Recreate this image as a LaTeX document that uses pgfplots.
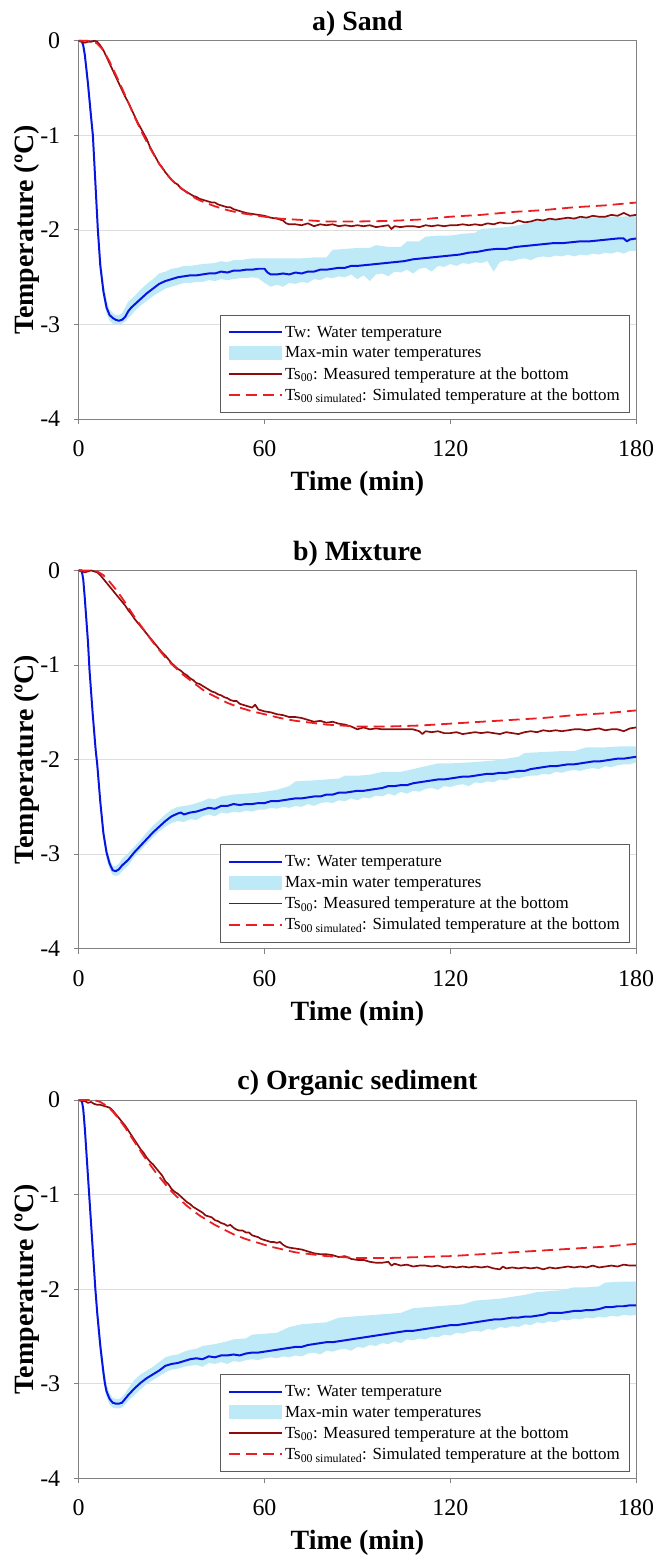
\documentclass[border=0pt]{standalone}
\usepackage{fontspec}
\setmainfont{Liberation Serif}
\usepackage{pgfplots}
\pgfplotsset{compat=1.18}
\definecolor{tw}{RGB}{10,20,225}
\definecolor{band}{RGB}{190,234,248}
\definecolor{meas}{RGB}{140,12,12}
\definecolor{sim}{RGB}{235,30,35}
\definecolor{frame}{RGB}{130,130,130}
\definecolor{gridc}{RGB}{222,222,222}
\pgfplotsset{
 panel/.style={
  scale only axis, width=560pt, height=380pt,
  xmin=0,xmax=180,ymin=-4,ymax=0, clip=false,
  xtick={0,60,120,180}, xticklabels={0,60,120,180},
  ytick={-4,-3,-2,-1,0}, yticklabels={-4,-3,-2,-1,0},
  tick align=outside, major tick length=5pt,
  xtick pos=left, ytick pos=left,
  axis line style={frame, line width=1pt},
  major tick style={frame, line width=1pt},
  ymajorgrids, grid style={gridc, line width=0.8pt},
  tick label style={font=\fontsize{24}{24}\selectfont, text=black},
  xticklabel style={yshift=-13pt},
  yticklabel style={xshift=-10pt},
  every axis x label/.style={at={(axis description cs:0.5,-0.171)}, anchor=center, font=\bfseries\fontsize{28}{30}\selectfont},
  every axis y label/.style={at={(axis description cs:-0.0925,0.5)}, anchor=center, rotate=90, font=\bfseries\fontsize{28}{30}\selectfont},
  every axis title/.style={at={(axis description cs:0.5,1)}, anchor=center, yshift=17pt, font=\bfseries\fontsize{28}{30}\selectfont},
  xlabel={Time (min)}, ylabel={Temperature (ºC)},
  legend cell align=left,
  legend style={at={(rel axis cs:0.9893,0.0158)}, anchor=south east, draw=frame!70!black, line width=1pt, fill=white,
    font=\fontsize{17}{20}\selectfont, inner xsep=8pt, inner ysep=9pt, row sep=4pt},
 },
 twl/.style={tw, line width=2pt, line join=round},
 measl/.style={meas, line width=1.7pt, line join=round},
 siml/.style={sim, line width=1.8pt, dash pattern=on 11pt off 6pt},
 twleg/.style={legend image code/.code={\draw[draw=tw, line width=2pt] (0pt,0pt) -- (53pt,0pt);}},
 bandleg/.style={legend image code/.code={\fill[fill=band, draw=none] (0pt,-7pt) rectangle (53pt,7pt);}},
 measleg/.style={legend image code/.code={\draw[draw=meas, line width=1.7pt] (0pt,0pt) -- (53pt,0pt);}},
 simleg/.style={legend image code/.code={\draw[draw=sim, line width=1.8pt, dash pattern=on 11pt off 6pt] (0pt,0pt) -- (53pt,0pt);}},
}
\newcommand\mylegend{%
  \addlegendimage{twleg}\addlegendentry{Tw: Water temperature}
  \addlegendimage{bandleg}\addlegendentry{Max-min water temperatures}
  \addlegendimage{measleg}\addlegendentry{Ts\textsubscript{00}: Measured temperature at the bottom}
  \addlegendimage{simleg}\addlegendentry{Ts\textsubscript{00 simulated}: Simulated temperature at the bottom}
}
\begin{document}
\begin{tikzpicture}
\path (0pt,0pt) rectangle (660pt,-1559pt);
% ================= a) Sand
\begin{axis}[panel, at={(79pt,-421pt)}, anchor=south west, title={a) Sand}]
\addplot[fill=band, draw=none, forget plot] coordinates {(0,0) (1,0) (2,-0.08) (3,-0.36) (4,-0.7) (5,-1.1) (6,-1.75) (7,-2.25) (8,-2.55) (9,-2.74) (10,-2.84) (11,-2.88) (12,-2.9) (13,-2.9) (14,-2.88) (15,-2.82) (16,-2.76) (18,-2.70) (20,-2.63) (22,-2.57) (24,-2.52) (26,-2.46) (28,-2.44) (30,-2.41) (32,-2.40) (34,-2.38) (36,-2.38) (40,-2.36) (44,-2.35) (46,-2.33) (48,-2.34) (50,-2.32) (52,-2.32) (54,-2.31) (56,-2.30) (58,-2.30) (60,-2.30) (64,-2.30) (68,-2.30) (72,-2.30) (76,-2.29) (80,-2.29) (82,-2.21) (86,-2.20) (90,-2.19) (94,-2.19) (96,-2.16) (100,-2.18) (104,-2.18) (106,-2.12) (110,-2.12) (112,-2.07) (116,-2.06) (120,-2.06) (124,-2.04) (128,-2.03) (130,-1.99) (134,-1.98) (138,-1.97) (142,-1.95) (146,-1.92) (148,-1.89) (152,-1.89) (156,-1.88) (160,-1.87) (166,-1.87) (170,-1.86) (175,-1.86) (180,-1.85)
(180,-2.22) (178,-2.22) (176,-2.25) (174,-2.23) (172,-2.25) (170,-2.24) (168,-2.26) (166,-2.25) (164,-2.27) (162,-2.26) (160,-2.28) (158,-2.26) (156,-2.28) (154,-2.27) (152,-2.29) (150,-2.28) (148,-2.29) (146,-2.32) (144,-2.30) (142,-2.31) (140,-2.33) (138,-2.32) (136,-2.34) (134,-2.44) (132,-2.33) (130,-2.35) (128,-2.34) (126,-2.36) (124,-2.35) (122,-2.38) (120,-2.36) (118,-2.39) (116,-2.38) (114,-2.44) (112,-2.40) (110,-2.41) (108,-2.46) (106,-2.42) (104,-2.45) (102,-2.44) (100,-2.49) (98,-2.46) (96,-2.47) (94,-2.54) (92,-2.48) (90,-2.52) (88,-2.47) (86,-2.50) (84,-2.49) (82,-2.51) (80,-2.50) (78,-2.53) (76,-2.52) (74,-2.56) (72,-2.55) (70,-2.57) (68,-2.56) (66,-2.60) (64,-2.58) (62,-2.60) (60,-2.56) (58,-2.51) (56,-2.50) (54,-2.51) (52,-2.51) (50,-2.52) (48,-2.53) (46,-2.52) (44,-2.54) (42,-2.53) (40,-2.55) (38,-2.55) (36,-2.56) (34,-2.56) (32,-2.58) (30,-2.60) (28,-2.62) (26,-2.66) (24,-2.70) (22,-2.75) (20,-2.8) (18,-2.86) (17,-2.9) (16,-2.93) (15,-2.97) (14,-2.99) (13,-3.0) (12,-3.0) (11,-2.99) (10,-2.96) (9,-2.88) (8,-2.72) (7,-2.42) (6,-1.95) (5,-1.35) (4,-0.9) (3,-0.55) (2,-0.2) (1,-0.03) (0,-0.02)};
\addplot[twl, forget plot] coordinates {(0,0) (1,0) (1.5,-0.05) (2,-0.15) (3,-0.45) (4,-0.8) (4.6,-1.0) (5.4,-1.5) (6.2,-2.0) (7,-2.38) (8,-2.65) (9,-2.82) (10,-2.9) (11,-2.93) (12,-2.95) (13,-2.96) (14,-2.95) (15,-2.92) (16,-2.86) (17,-2.82) (18,-2.79) (20,-2.73) (22,-2.67) (24,-2.62) (26,-2.57) (28,-2.54) (30,-2.52) (32,-2.50) (34,-2.49) (36,-2.48) (38,-2.48) (40,-2.47) (42,-2.46) (44,-2.46) (46,-2.44) (48,-2.45) (50,-2.43) (52,-2.43) (54,-2.42) (56,-2.42) (58,-2.41) (60,-2.41) (61,-2.45) (62,-2.47) (64,-2.47) (66,-2.46) (68,-2.47) (70,-2.45) (72,-2.46) (74,-2.44) (76,-2.44) (78,-2.42) (80,-2.42) (82,-2.41) (84,-2.40) (86,-2.40) (88,-2.38) (90,-2.38) (93,-2.37) (96,-2.36) (99,-2.35) (102,-2.34) (105,-2.33) (108,-2.31) (111,-2.30) (114,-2.29) (117,-2.28) (120,-2.27) (123,-2.26) (126,-2.24) (129,-2.23) (132,-2.21) (135,-2.20) (138,-2.20) (141,-2.18) (144,-2.17) (147,-2.16) (150,-2.15) (153,-2.14) (156,-2.14) (159,-2.13) (162,-2.12) (165,-2.12) (168,-2.11) (171,-2.10) (174,-2.09) (176,-2.09) (177,-2.12) (178,-2.10) (180,-2.09)};
\addplot[measl, forget plot] coordinates {(0,0) (1,-0.01) (2,-0.02) (3,-0.01) (4,-0.01) (5,0) (6,-0.01) (7,-0.05) (8,-0.1) (9,-0.17) (10,-0.24) (11,-0.31) (12,-0.38) (13,-0.45) (14,-0.52) (15,-0.59) (16,-0.65) (17,-0.72) (18,-0.79) (19,-0.86) (20,-0.92) (21,-0.98) (22,-1.04) (23,-1.12) (24,-1.18) (25,-1.24) (26,-1.3) (27,-1.34) (28,-1.39) (29,-1.43) (30,-1.47) (31,-1.5) (32,-1.52) (33,-1.56) (34,-1.58) (35,-1.6) (36,-1.62) (37,-1.64) (38,-1.65) (39,-1.67) (40,-1.68) (41,-1.69) (42,-1.70) (43,-1.71) (44,-1.71) (45,-1.73) (46,-1.74) (47,-1.75) (48,-1.76) (49,-1.76) (50,-1.78) (51,-1.79) (52,-1.8) (53,-1.81) (54,-1.82) (56,-1.83) (58,-1.84) (60,-1.85) (62,-1.87) (64,-1.88) (66,-1.9) (67,-1.93) (68,-1.94) (70,-1.94) (72,-1.95) (74,-1.93) (76,-1.96) (78,-1.94) (80,-1.95) (82,-1.94) (84,-1.96) (86,-1.95) (88,-1.96) (90,-1.95) (92,-1.96) (94,-1.95) (96,-1.97) (98,-1.96) (100,-1.95) (101,-1.99) (102,-1.96) (104,-1.97) (106,-1.96) (108,-1.96) (110,-1.97) (112,-1.95) (114,-1.96) (116,-1.95) (118,-1.96) (120,-1.95) (122,-1.95) (124,-1.94) (126,-1.95) (128,-1.94) (130,-1.95) (132,-1.93) (134,-1.94) (136,-1.92) (138,-1.93) (140,-1.93) (142,-1.9) (144,-1.92) (146,-1.91) (148,-1.89) (150,-1.90) (152,-1.88) (154,-1.89) (156,-1.88) (158,-1.87) (160,-1.88) (162,-1.86) (164,-1.87) (166,-1.85) (168,-1.86) (170,-1.86) (172,-1.84) (174,-1.85) (176,-1.82) (178,-1.85) (180,-1.84)};
\addplot[siml, forget plot] coordinates {(0,0) (3,0) (5,-0.01) (6,-0.03) (8,-0.1) (10,-0.22) (12,-0.36) (14,-0.5) (16,-0.65) (18,-0.8) (20,-0.94) (22,-1.07) (24,-1.19) (26,-1.3) (28,-1.39) (30,-1.47) (32,-1.53) (34,-1.58) (36,-1.63) (38,-1.67) (40,-1.7) (44,-1.75) (48,-1.79) (52,-1.82) (56,-1.84) (60,-1.86) (65,-1.88) (70,-1.89) (75,-1.90) (80,-1.91) (90,-1.91) (100,-1.905) (110,-1.89) (120,-1.86) (130,-1.84) (140,-1.81) (150,-1.79) (160,-1.76) (170,-1.74) (180,-1.71)};
\mylegend
\end{axis}
% ================= b) Mixture
\begin{axis}[panel, at={(79pt,-953pt)}, anchor=south west, title={b) Mixture}]
\addplot[fill=band, draw=none, forget plot] coordinates {(0,0) (1,0) (1.5,-0.05) (2,-0.22) (3,-0.65) (4,-1.2) (5,-1.65) (6,-1.98) (7,-2.38) (8,-2.7) (9,-2.92) (10,-3.05) (11,-3.12) (12,-3.13) (13,-3.1) (14,-3.05) (16,-2.99) (18,-2.92) (20,-2.85) (22,-2.77) (24,-2.70) (26,-2.64) (28,-2.58) (30,-2.53) (32,-2.50) (34,-2.49) (36,-2.48) (38,-2.46) (40,-2.44) (42,-2.41) (44,-2.42) (46,-2.39) (48,-2.38) (50,-2.37) (54,-2.36) (58,-2.35) (60,-2.34) (64,-2.32) (68,-2.28) (70,-2.23) (76,-2.22) (80,-2.21) (84,-2.20) (86,-2.17) (90,-2.17) (94,-2.16) (98,-2.13) (104,-2.13) (108,-2.10) (112,-2.07) (116,-2.04) (120,-2.04) (126,-2.03) (130,-2.02) (134,-2.01) (138,-1.99) (142,-1.97) (144,-1.93) (150,-1.92) (156,-1.91) (160,-1.91) (164,-1.87) (170,-1.87) (175,-1.86) (180,-1.86)
(180,-2.03) (178,-2.05) (176,-2.05) (174,-2.06) (172,-2.08) (170,-2.07) (168,-2.10) (166,-2.09) (164,-2.10) (162,-2.12) (160,-2.11) (158,-2.12) (156,-2.14) (154,-2.13) (152,-2.16) (150,-2.15) (148,-2.17) (146,-2.17) (144,-2.18) (142,-2.20) (140,-2.19) (138,-2.22) (136,-2.21) (134,-2.24) (132,-2.23) (130,-2.25) (128,-2.24) (126,-2.28) (124,-2.26) (122,-2.27) (120,-2.29) (118,-2.28) (116,-2.32) (114,-2.30) (112,-2.31) (110,-2.34) (108,-2.33) (106,-2.36) (104,-2.34) (102,-2.38) (100,-2.36) (98,-2.39) (96,-2.38) (94,-2.41) (92,-2.40) (90,-2.43) (88,-2.41) (86,-2.44) (84,-2.43) (82,-2.46) (80,-2.45) (78,-2.46) (76,-2.49) (74,-2.47) (72,-2.50) (70,-2.49) (68,-2.51) (66,-2.50) (64,-2.52) (62,-2.51) (60,-2.53) (58,-2.53) (56,-2.55) (54,-2.54) (52,-2.56) (50,-2.55) (48,-2.57) (46,-2.56) (44,-2.60) (42,-2.58) (40,-2.60) (38,-2.64) (36,-2.63) (34,-2.66) (32,-2.65) (30,-2.67) (28,-2.71) (26,-2.76) (24,-2.82) (22,-2.89) (20,-2.96) (18,-3.03) (16,-3.12) (14,-3.18) (13,-3.22) (12,-3.23) (11,-3.22) (10,-3.16) (9,-3.05) (8,-2.85) (7,-2.52) (6,-2.12) (5,-1.8) (4,-1.35) (3,-0.85) (2,-0.4) (1.5,-0.15) (1,-0.03) (0,-0.02)};
\addplot[twl, forget plot] coordinates {(0,0) (1,0) (1.5,-0.1) (2,-0.3) (3,-0.75) (3.5,-1.05) (4.5,-1.5) (5.5,-1.9) (6,-2.05) (7,-2.45) (8,-2.78) (9,-2.98) (10,-3.1) (11,-3.17) (12,-3.18) (13,-3.16) (14,-3.12) (15,-3.09) (16,-3.06) (18,-2.98) (20,-2.91) (22,-2.84) (24,-2.77) (26,-2.71) (28,-2.65) (30,-2.6) (32,-2.57) (33,-2.56) (34,-2.58) (36,-2.56) (38,-2.55) (40,-2.53) (42,-2.51) (44,-2.52) (46,-2.49) (48,-2.49) (50,-2.47) (52,-2.48) (54,-2.47) (56,-2.47) (58,-2.46) (60,-2.46) (62,-2.44) (64,-2.44) (66,-2.43) (68,-2.42) (70,-2.41) (72,-2.41) (74,-2.40) (76,-2.39) (78,-2.39) (80,-2.37) (82,-2.37) (84,-2.35) (86,-2.35) (88,-2.34) (90,-2.33) (92,-2.33) (94,-2.32) (96,-2.31) (98,-2.30) (100,-2.28) (102,-2.28) (104,-2.27) (106,-2.27) (108,-2.25) (110,-2.24) (112,-2.23) (114,-2.22) (116,-2.21) (118,-2.21) (120,-2.20) (122,-2.19) (124,-2.18) (126,-2.18) (128,-2.17) (130,-2.16) (132,-2.15) (134,-2.15) (136,-2.14) (138,-2.14) (140,-2.13) (142,-2.12) (144,-2.12) (146,-2.10) (148,-2.09) (150,-2.08) (152,-2.07) (154,-2.07) (156,-2.06) (158,-2.05) (160,-2.05) (162,-2.04) (164,-2.03) (166,-2.02) (168,-2.02) (170,-2.01) (172,-2.00) (174,-1.99) (176,-1.99) (178,-1.98) (180,-1.97)};
\addplot[measl, forget plot] coordinates {(0,0) (1,-0.01) (2,-0.02) (3,-0.01) (4,0) (5,-0.01) (6,-0.02) (7,-0.05) (8,-0.09) (9,-0.13) (10,-0.17) (11,-0.21) (12,-0.25) (13,-0.29) (14,-0.33) (15,-0.37) (16,-0.42) (17,-0.46) (18,-0.51) (19,-0.55) (20,-0.59) (21,-0.63) (22,-0.67) (23,-0.71) (24,-0.75) (25,-0.79) (26,-0.83) (27,-0.87) (28,-0.9) (29,-0.94) (30,-0.98) (31,-1.01) (32,-1.04) (33,-1.06) (34,-1.09) (35,-1.11) (36,-1.14) (37,-1.16) (38,-1.19) (39,-1.20) (40,-1.22) (41,-1.24) (42,-1.26) (43,-1.28) (44,-1.29) (45,-1.31) (46,-1.32) (47,-1.34) (48,-1.35) (49,-1.37) (50,-1.38) (51,-1.38) (52,-1.41) (53,-1.42) (54,-1.43) (55,-1.44) (56,-1.45) (57,-1.42) (58,-1.47) (59,-1.48) (60,-1.49) (62,-1.50) (64,-1.52) (66,-1.53) (68,-1.55) (70,-1.55) (72,-1.56) (74,-1.58) (76,-1.60) (78,-1.59) (80,-1.61) (82,-1.60) (84,-1.62) (86,-1.63) (88,-1.65) (90,-1.68) (92,-1.66) (94,-1.68) (96,-1.67) (98,-1.68) (100,-1.68) (102,-1.68) (104,-1.68) (106,-1.68) (108,-1.68) (110,-1.70) (111,-1.73) (112,-1.70) (114,-1.71) (116,-1.70) (118,-1.72) (120,-1.72) (122,-1.71) (124,-1.73) (126,-1.72) (128,-1.71) (130,-1.72) (132,-1.71) (134,-1.72) (136,-1.73) (138,-1.71) (140,-1.72) (142,-1.73) (144,-1.71) (146,-1.70) (148,-1.71) (150,-1.69) (152,-1.70) (154,-1.69) (156,-1.70) (158,-1.69) (160,-1.68) (162,-1.68) (164,-1.69) (166,-1.68) (168,-1.67) (170,-1.69) (172,-1.68) (174,-1.68) (176,-1.70) (178,-1.67) (180,-1.66)};
\addplot[siml, forget plot] coordinates {(0,0) (4,0) (6,-0.01) (8,-0.05) (10,-0.12) (12,-0.2) (14,-0.29) (16,-0.39) (18,-0.49) (20,-0.58) (22,-0.67) (24,-0.76) (26,-0.84) (28,-0.92) (30,-0.99) (32,-1.05) (34,-1.11) (36,-1.16) (38,-1.21) (40,-1.26) (42,-1.30) (45,-1.35) (48,-1.40) (52,-1.45) (56,-1.49) (60,-1.52) (65,-1.56) (70,-1.59) (75,-1.61) (80,-1.63) (85,-1.64) (90,-1.65) (100,-1.65) (110,-1.64) (120,-1.62) (130,-1.60) (140,-1.58) (150,-1.56) (160,-1.53) (170,-1.51) (180,-1.48)};
\mylegend
\end{axis}
% ================= c) Organic sediment
\begin{axis}[panel, at={(79pt,-1485pt)}, anchor=south west, title={c) Organic sediment}]
\addplot[fill=band, draw=none, forget plot] coordinates {(0,0) (1,0) (2,-0.2) (3,-0.7) (4,-1.2) (5,-1.7) (6,-2.15) (7,-2.5) (8,-2.8) (9,-3.0) (10,-3.1) (11,-3.15) (12,-3.16) (13,-3.16) (14,-3.14) (15,-3.1) (16,-3.05) (18,-2.96) (20,-2.9) (22,-2.86) (24,-2.82) (26,-2.77) (28,-2.72) (30,-2.70) (32,-2.69) (34,-2.66) (36,-2.64) (38,-2.63) (40,-2.60) (44,-2.58) (48,-2.55) (50,-2.53) (54,-2.52) (56,-2.48) (60,-2.47) (64,-2.46) (68,-2.40) (72,-2.37) (76,-2.36) (80,-2.35) (84,-2.30) (88,-2.29) (92,-2.28) (96,-2.27) (100,-2.26) (104,-2.25) (108,-2.20) (112,-2.19) (116,-2.18) (120,-2.17) (124,-2.16) (128,-2.12) (132,-2.11) (136,-2.10) (140,-2.08) (144,-2.06) (148,-2.03) (152,-2.02) (156,-2.01) (160,-1.98) (164,-1.98) (168,-1.97) (170,-1.93) (175,-1.92) (180,-1.92)
(180,-2.27) (178,-2.28) (176,-2.27) (174,-2.29) (172,-2.28) (170,-2.30) (168,-2.29) (166,-2.31) (164,-2.30) (162,-2.32) (160,-2.31) (158,-2.33) (156,-2.32) (154,-2.35) (152,-2.34) (150,-2.36) (148,-2.35) (146,-2.38) (144,-2.37) (142,-2.40) (140,-2.39) (138,-2.41) (136,-2.40) (134,-2.43) (132,-2.42) (130,-2.45) (128,-2.44) (126,-2.45) (124,-2.47) (122,-2.46) (120,-2.49) (118,-2.48) (116,-2.51) (114,-2.50) (112,-2.53) (110,-2.52) (108,-2.54) (106,-2.53) (104,-2.57) (102,-2.55) (100,-2.58) (98,-2.57) (96,-2.60) (94,-2.59) (92,-2.62) (90,-2.61) (88,-2.65) (86,-2.63) (84,-2.64) (82,-2.66) (80,-2.65) (78,-2.69) (76,-2.67) (74,-2.68) (72,-2.71) (70,-2.70) (68,-2.72) (66,-2.71) (64,-2.73) (62,-2.72) (60,-2.73) (58,-2.75) (56,-2.74) (54,-2.75) (52,-2.77) (50,-2.76) (48,-2.79) (46,-2.77) (44,-2.79) (42,-2.78) (40,-2.82) (38,-2.80) (36,-2.81) (34,-2.82) (32,-2.84) (30,-2.85) (28,-2.88) (26,-2.92) (24,-2.96) (22,-3.0) (20,-3.06) (18,-3.12) (16,-3.18) (15,-3.22) (14,-3.25) (13,-3.26) (12,-3.26) (11,-3.25) (10,-3.22) (9,-3.14) (8,-2.98) (7,-2.72) (6,-2.38) (5,-1.9) (4,-1.4) (3,-0.92) (2,-0.42) (1,-0.03) (0,-0.02)};
\addplot[twl, forget plot] coordinates {(0,0) (1,0) (1.5,-0.1) (2,-0.3) (3,-0.8) (3.5,-1.05) (4.5,-1.55) (5.4,-2.0) (6,-2.25) (7,-2.6) (8,-2.88) (8.5,-3.0) (9,-3.08) (10,-3.16) (11,-3.2) (12,-3.21) (13,-3.21) (14,-3.2) (15,-3.16) (16,-3.12) (18,-3.05) (20,-2.99) (22,-2.94) (24,-2.9) (26,-2.86) (28,-2.81) (30,-2.79) (32,-2.78) (34,-2.76) (36,-2.74) (38,-2.73) (40,-2.74) (42,-2.71) (44,-2.72) (46,-2.70) (48,-2.70) (50,-2.69) (52,-2.70) (54,-2.68) (56,-2.67) (58,-2.67) (60,-2.66) (62,-2.65) (64,-2.64) (66,-2.63) (68,-2.62) (70,-2.61) (72,-2.61) (74,-2.59) (76,-2.58) (78,-2.57) (80,-2.56) (82,-2.56) (84,-2.55) (86,-2.54) (88,-2.53) (90,-2.52) (92,-2.51) (94,-2.50) (96,-2.49) (98,-2.48) (100,-2.47) (102,-2.46) (104,-2.45) (106,-2.44) (108,-2.44) (110,-2.43) (112,-2.42) (114,-2.41) (116,-2.40) (118,-2.39) (120,-2.38) (122,-2.38) (124,-2.37) (126,-2.36) (128,-2.35) (130,-2.34) (132,-2.33) (134,-2.32) (136,-2.32) (138,-2.31) (140,-2.30) (142,-2.30) (144,-2.29) (146,-2.29) (148,-2.28) (150,-2.27) (152,-2.25) (154,-2.25) (156,-2.25) (158,-2.24) (160,-2.23) (162,-2.23) (164,-2.22) (166,-2.22) (168,-2.21) (170,-2.19) (172,-2.19) (174,-2.18) (176,-2.18) (178,-2.17) (180,-2.17)};
\addplot[measl, forget plot] coordinates {(0,0) (1,-0.01) (2,-0.01) (3,-0.03) (4,-0.02) (5,-0.04) (6,-0.05) (7,-0.05) (8,-0.06) (9,-0.07) (10,-0.08) (11,-0.11) (12,-0.15) (13,-0.19) (14,-0.23) (15,-0.27) (16,-0.32) (17,-0.37) (18,-0.42) (19,-0.47) (20,-0.52) (21,-0.56) (22,-0.61) (23,-0.65) (24,-0.68) (25,-0.72) (26,-0.76) (27,-0.80) (28,-0.86) (29,-0.89) (30,-0.94) (31,-0.97) (32,-0.99) (33,-1.02) (34,-1.05) (35,-1.08) (36,-1.10) (37,-1.13) (38,-1.15) (39,-1.17) (40,-1.19) (41,-1.22) (42,-1.23) (43,-1.24) (44,-1.27) (45,-1.28) (46,-1.30) (47,-1.31) (48,-1.33) (49,-1.32) (50,-1.35) (51,-1.37) (52,-1.38) (53,-1.38) (54,-1.40) (55,-1.40) (56,-1.43) (57,-1.44) (58,-1.45) (59,-1.47) (60,-1.48) (61,-1.49) (62,-1.50) (63,-1.50) (64,-1.51) (65,-1.50) (66,-1.53) (67,-1.55) (68,-1.56) (70,-1.57) (72,-1.58) (74,-1.60) (76,-1.62) (78,-1.63) (80,-1.63) (82,-1.64) (84,-1.66) (86,-1.65) (88,-1.68) (90,-1.69) (92,-1.69) (94,-1.71) (96,-1.72) (98,-1.72) (100,-1.71) (101,-1.75) (102,-1.73) (104,-1.75) (106,-1.74) (108,-1.76) (110,-1.75) (112,-1.75) (114,-1.76) (116,-1.75) (118,-1.77) (120,-1.76) (122,-1.77) (124,-1.76) (126,-1.77) (128,-1.76) (130,-1.77) (132,-1.76) (134,-1.78) (136,-1.79) (137,-1.76) (138,-1.78) (140,-1.77) (142,-1.78) (144,-1.77) (146,-1.78) (148,-1.77) (150,-1.79) (152,-1.77) (154,-1.78) (156,-1.77) (158,-1.76) (160,-1.77) (162,-1.76) (164,-1.77) (166,-1.75) (168,-1.77) (170,-1.76) (172,-1.75) (174,-1.76) (176,-1.74) (178,-1.75) (180,-1.75)};
\addplot[siml, forget plot] coordinates {(0,0) (5,0) (7,-0.02) (9,-0.06) (11,-0.12) (13,-0.2) (15,-0.29) (17,-0.39) (19,-0.49) (21,-0.59) (23,-0.68) (25,-0.77) (27,-0.85) (29,-0.93) (31,-1.00) (33,-1.06) (35,-1.12) (37,-1.17) (39,-1.22) (41,-1.26) (44,-1.32) (47,-1.37) (50,-1.42) (54,-1.47) (58,-1.51) (62,-1.55) (66,-1.58) (70,-1.61) (75,-1.63) (80,-1.65) (85,-1.66) (90,-1.67) (100,-1.67) (110,-1.66) (120,-1.65) (130,-1.63) (140,-1.61) (150,-1.59) (160,-1.57) (170,-1.55) (180,-1.52)};
\mylegend
\end{axis}
\end{tikzpicture}
\end{document}
